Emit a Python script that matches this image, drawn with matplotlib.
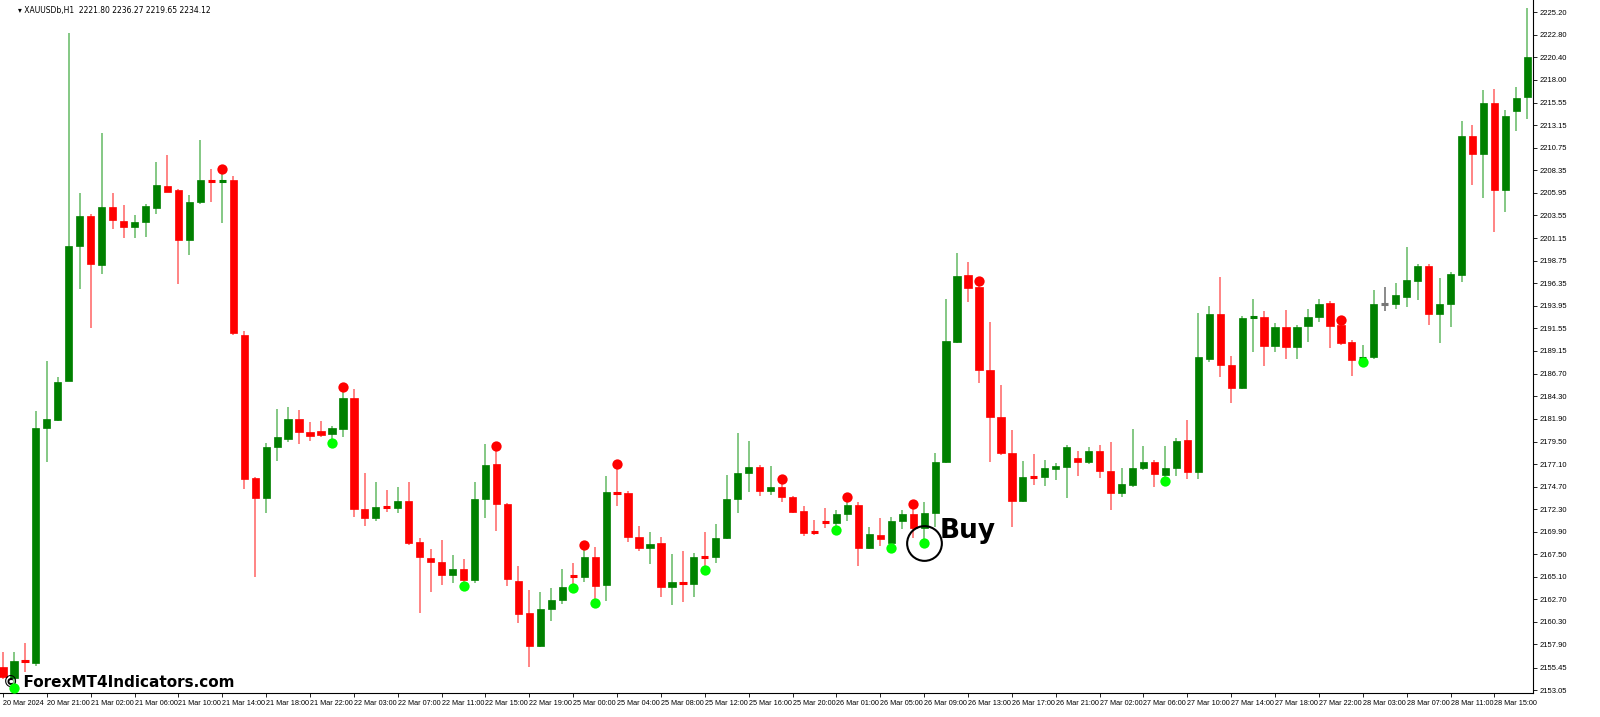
import matplotlib
matplotlib.use("Agg")
import matplotlib.pyplot as plt
import numpy as np

opens = [2155.51,2154.34,2156.26,2155.94,2180.94,2181.79,2185.94,2200.31,2203.50,2198.28,
 2204.46,2202.97,2202.33,2202.86,2204.35,2206.69,2206.26,2200.94,2204.99,2207.33,
 2207.12,2207.33,2190.84,2175.62,2173.49,2178.92,2179.77,2181.90,2180.52,2180.62,
 2180.30,2180.83,2184.13,2172.32,2171.36,2172.64,2172.43,2173.17,2168.81,2167.11,
 2166.68,2165.30,2165.94,2164.77,2173.39,2177.11,2172.85,2164.66,2161.26,2157.75,
 2161.68,2162.64,2165.30,2165.09,2167.22,2164.24,2174.13,2174.02,2169.34,2168.17,
 2168.70,2164.02,2164.56,2164.34,2167.22,2167.22,2169.24,2173.39,2176.15,2176.79,
 2174.24,2174.66,2173.60,2172.11,2169.90,2171.05,2170.83,2171.79,2172.75,2168.17,
 2169.56,2168.70,2171.05,2171.79,2170.30,2171.90,2177.32,2190.09,2197.22,2195.94,
 2187.11,2182.11,2178.28,2173.17,2175.73,2175.73,2176.58,2176.79,2177.75,2177.32,
 2178.50,2176.37,2174.02,2174.88,2176.69,2177.32,2175.94,2176.69,2179.66,2176.26,
 2188.28,2193.07,2187.64,2185.20,2192.64,2192.75,2189.67,2191.69,2189.56,2191.79,
 2192.75,2194.24,2191.90,2190.09,2188.38,2188.49,2194.13,2194.13,2194.88,2196.58,
 2198.18,2193.07,2194.13,2197.22,2212.01,2210.09,2215.52,2206.26,2214.67,2216.16]
highs = [2157.11,2157.11,2158.06,2182.75,2188.07,2186.37,2222.97,2205.94,2203.70,2212.33,
 2205.94,2204.67,2203.60,2204.77,2209.24,2209.99,2206.40,2205.73,2211.58,2208.50,
 2208.18,2207.75,2191.26,2175.73,2179.34,2182.96,2183.18,2182.86,2181.58,2181.69,
 2181.20,2184.98,2185.09,2176.15,2175.20,2174.34,2174.66,2175.20,2169.24,2168.07,
 2169.02,2167.43,2167.00,2175.20,2179.24,2178.62,2173.00,2166.26,2163.70,2163.49,
 2163.92,2165.94,2166.58,2168.17,2168.28,2175.83,2176.79,2174.20,2170.51,2169.88,
 2169.34,2167.53,2167.85,2167.64,2169.88,2170.73,2175.94,2180.41,2179.56,2177.00,
 2176.90,2175.20,2173.70,2172.64,2171.15,2172.43,2172.21,2173.28,2173.07,2170.41,
 2171.36,2171.47,2172.21,2172.54,2173.07,2178.30,2194.67,2199.56,2198.60,2196.26,
 2192.22,2185.52,2180.73,2177.43,2178.17,2177.54,2177.22,2179.10,2178.50,2178.92,
 2179.13,2179.45,2176.69,2180.83,2179.03,2177.50,2179.03,2179.88,2181.79,2193.17,
 2193.92,2197.01,2188.60,2192.86,2194.67,2193.39,2192.11,2193.50,2191.90,2193.60,
 2194.67,2194.40,2192.11,2190.30,2189.77,2195.62,2195.94,2196.37,2200.20,2198.39,
 2198.40,2196.90,2197.50,2213.61,2213.18,2216.90,2217.01,2214.78,2217.22,2225.63]
lows = [2154.20,2153.60,2154.98,2155.62,2177.32,2181.69,2185.94,2195.73,2191.58,2197.33,
 2202.11,2201.16,2201.16,2201.26,2203.71,2206.00,2196.26,2199.35,2204.77,2204.99,
 2202.75,2190.84,2174.45,2165.09,2171.90,2177.43,2179.45,2179.24,2179.56,2179.98,
 2179.66,2179.98,2171.47,2170.51,2171.05,2172.00,2171.90,2168.49,2161.26,2163.49,
 2164.24,2164.45,2164.45,2164.45,2171.36,2169.98,2164.13,2160.19,2155.51,2157.64,
 2160.41,2162.21,2164.24,2164.56,2162.64,2162.53,2172.64,2168.81,2167.85,2166.47,
 2162.96,2162.11,2162.43,2162.96,2166.15,2166.58,2169.13,2171.90,2174.13,2173.71,
 2173.81,2173.07,2171.90,2169.45,2169.56,2170.30,2170.41,2171.05,2166.26,2168.07,
 2168.39,2168.49,2170.19,2169.24,2169.02,2170.41,2177.22,2189.98,2194.35,2185.73,
 2177.32,2178.07,2170.41,2173.07,2174.88,2174.77,2175.41,2173.49,2175.83,2177.11,
 2175.62,2172.21,2173.60,2174.66,2176.50,2174.66,2175.62,2175.83,2175.51,2175.51,
 2187.96,2186.37,2183.60,2185.09,2189.03,2187.54,2189.03,2188.28,2188.28,2190.09,
 2192.22,2189.45,2189.80,2186.48,2188.28,2188.28,2193.39,2193.60,2193.82,2194.56,
 2191.90,2189.98,2191.69,2196.48,2206.80,2205.41,2201.80,2203.92,2212.54,2213.82]
closes = [2154.40,2156.15,2156.04,2180.94,2181.90,2185.84,2200.31,2203.50,2198.39,2204.46,
 2203.07,2202.33,2202.86,2204.56,2206.80,2206.05,2200.94,2204.99,2207.33,2207.12,
 2207.33,2191.05,2175.51,2173.49,2178.92,2179.98,2181.90,2180.52,2180.09,2180.20,
 2180.94,2184.13,2172.32,2171.36,2172.54,2172.43,2173.17,2168.70,2167.22,2166.68,
 2165.30,2165.94,2164.77,2173.39,2177.00,2172.85,2164.87,2161.15,2157.75,2161.68,
 2162.64,2164.02,2165.09,2167.22,2164.13,2174.13,2173.92,2169.34,2168.17,2168.60,
 2164.02,2164.56,2164.34,2167.22,2167.11,2169.24,2173.39,2176.15,2176.79,2174.24,
 2174.66,2173.60,2172.00,2169.77,2169.75,2170.83,2171.79,2172.75,2168.17,2169.66,
 2169.13,2171.05,2171.79,2170.30,2171.90,2177.32,2190.20,2197.11,2195.84,2187.11,
 2182.11,2178.28,2173.17,2175.73,2175.62,2176.69,2176.90,2178.92,2177.32,2178.50,
 2176.37,2174.02,2174.98,2176.69,2177.32,2176.05,2176.69,2179.56,2176.26,2188.49,
 2193.07,2187.64,2185.20,2192.64,2192.75,2189.67,2191.69,2189.56,2191.69,2192.75,
 2194.13,2191.79,2189.98,2188.17,2188.49,2194.13,2194.13,2195.09,2196.69,2198.18,
 2193.07,2194.13,2197.33,2212.01,2210.09,2215.52,2206.26,2214.14,2216.05,2220.42]

buy_dots = [1, 30, 42, 52, 54, 64, 76, 81, 84, 106, 124]
sell_dots = [20, 31, 45, 53, 56, 71, 77, 83, 89, 122]
buy_signal = 84

time_labels = ["20 Mar 2024","20 Mar 21:00","21 Mar 02:00","21 Mar 06:00","21 Mar 10:00","21 Mar 14:00",
 "21 Mar 18:00","21 Mar 22:00","22 Mar 03:00","22 Mar 07:00","22 Mar 11:00","22 Mar 15:00",
 "22 Mar 19:00","25 Mar 00:00","25 Mar 04:00","25 Mar 08:00","25 Mar 12:00","25 Mar 16:00",
 "25 Mar 20:00","26 Mar 01:00","26 Mar 05:00","26 Mar 09:00","26 Mar 13:00","26 Mar 17:00",
 "26 Mar 21:00","27 Mar 02:00","27 Mar 06:00","27 Mar 10:00","27 Mar 14:00","27 Mar 18:00",
 "27 Mar 22:00","28 Mar 03:00","28 Mar 07:00","28 Mar 11:00","28 Mar 15:00"]
price_ticks = [2225.20,2222.80,2220.40,2218.00,2215.55,2213.15,2210.75,2208.35,2205.95,2203.55,
 2201.15,2198.75,2196.35,2193.95,2191.55,2189.15,2186.70,2184.30,2181.90,2179.50,2177.10,
 2174.70,2172.30,2169.90,2167.50,2165.10,2162.70,2160.30,2157.90,2155.45,2153.05]

fig = plt.figure(figsize=(16, 7.17), dpi=100)
ax = fig.add_axes([0.0, 0.0335, 0.958, 0.9665])
GREEN, RED = "#008000", "#ff0000"
for i, (o, h, l, c) in enumerate(zip(opens, highs, lows, closes)):
    if abs(c - o) < 1e-9:
        col, wc = "#777777", "#777777"
    elif c > o:
        col, wc = GREEN, "#6fbf6f"
    else:
        col, wc = RED, "#ff7070"
    ax.vlines(i, l, h, color=wc, lw=1.2, zorder=2)
    b0, b1 = min(o, c), max(o, c)
    if b1 - b0 < 0.25:
        ax.hlines((o + c) / 2, i - 0.33, i + 0.33, color=col, lw=2.2, zorder=3)
    else:
        ax.bar(i, b1 - b0, bottom=b0, width=0.66, color=col, edgecolor=col, lw=0.5, zorder=3)

ax.scatter(buy_dots, [lows[i] - 0.35 for i in buy_dots], s=55, color="#00ff00", zorder=4, linewidths=0)
ax.scatter(sell_dots, [highs[i] + 0.35 for i in sell_dots], s=55, color="#ff0000", zorder=4, linewidths=0)
ax.plot([buy_signal], [lows[buy_signal] - 0.35], marker="o", ms=25, mfc="none", mec="black", mew=1.5, zorder=5)
ax.text(buy_signal + 1.4, lows[buy_signal] + 1.0, "Buy", fontsize=19, fontweight="bold", va="center", ha="left")

ax.set_xlim(-0.27, 139.5)
ax.set_ylim(2152.74, 2226.48)
ax.yaxis.tick_right()
ax.set_yticks(price_ticks)
ax.set_yticklabels([f"{v:.2f}" for v in price_ticks], fontsize=5.5, family="Liberation Sans")
xt = list(range(0, 4 * len(time_labels), 4))
ax.set_xticks(xt)
ax.set_xticklabels(time_labels, fontsize=5.2, ha="left", family="Liberation Sans")
ax.tick_params(axis="both", length=3, width=0.6, pad=2)
for s in ["top", "left"]:
    ax.spines[s].set_visible(False)
ax.spines["right"].set_linewidth(0.8)
ax.spines["bottom"].set_linewidth(0.8)
ax.text(0.012, 0.992, "▾ XAUUSDb,H1  2221.80 2236.27 2219.65 2234.12", transform=ax.transAxes,
        fontsize=5.5, va="top", ha="left")
ax.text(0.002, 0.004, "© ForexMT4Indicators.com", transform=ax.transAxes, fontsize=11,
        fontweight="bold", va="bottom", ha="left")
fig.savefig("out.png", dpi=100)
